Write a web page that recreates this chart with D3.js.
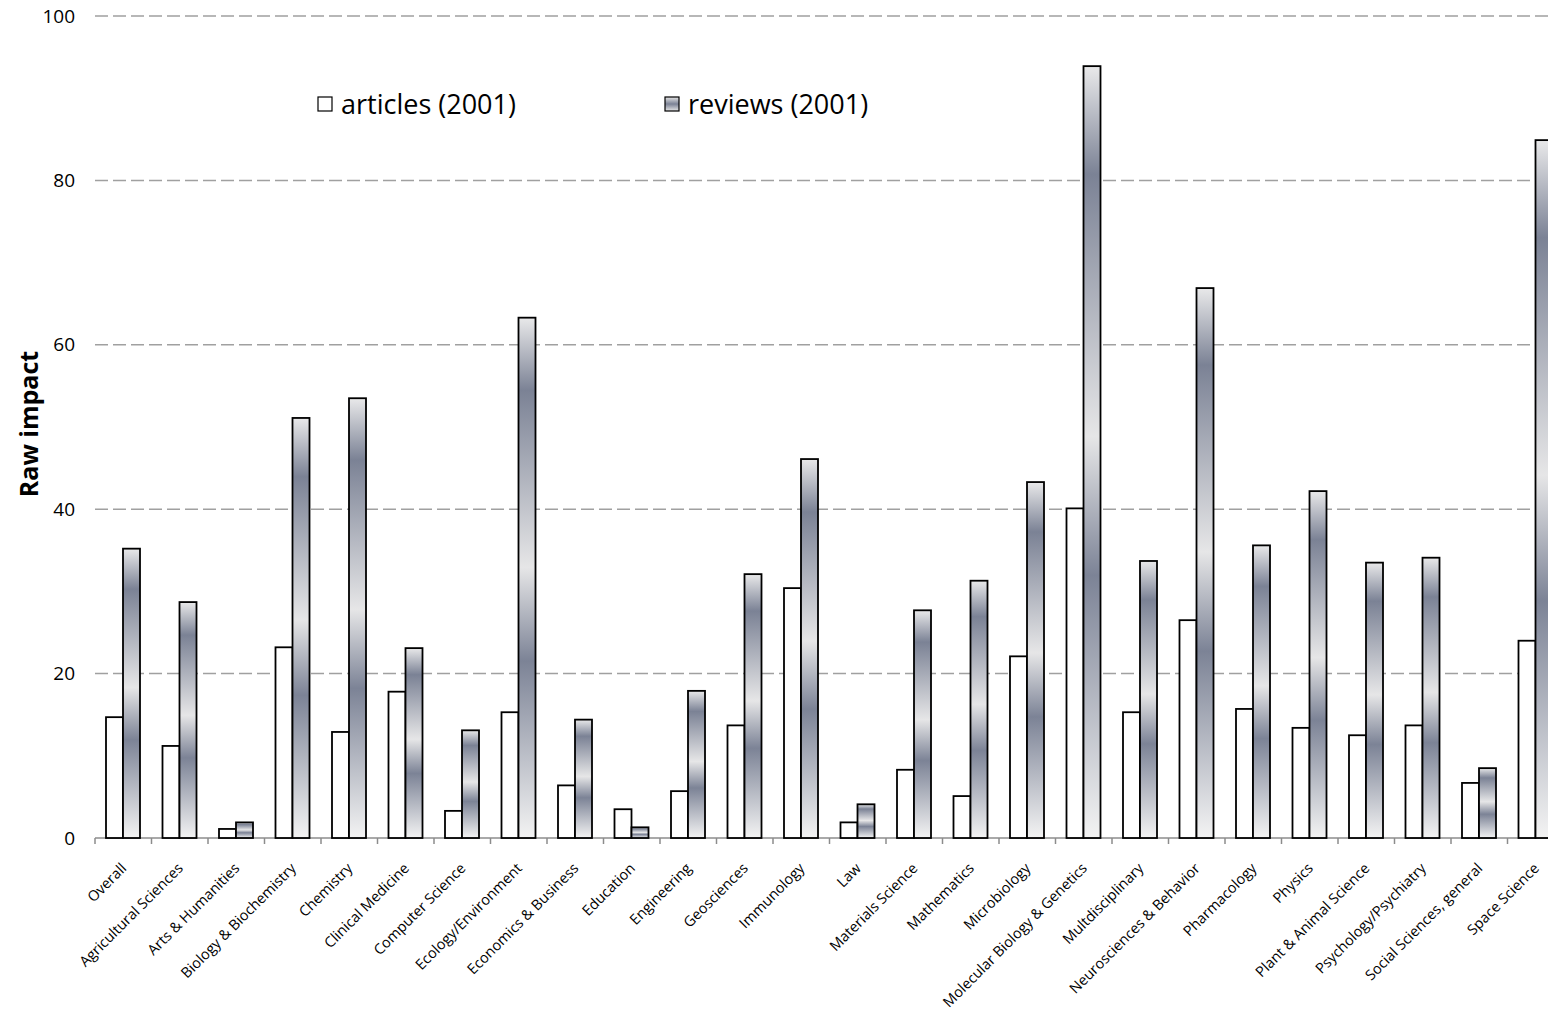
<!DOCTYPE html>
<html>
<head>
<meta charset="utf-8">
<script src="https://cdn.jsdelivr.net/npm/d3@7"></script>
<style>
  body { margin: 0; background: #fff; }
  svg { display: block; font-family: "Open Sans", "DejaVu Sans", sans-serif; }
</style>
</head>
<body>
<svg id="chart" width="1548" height="1020"></svg>
<script>
var categories = ["Overall", "Agricultural Sciences", "Arts & Humanities", "Biology & Biochemistry",
  "Chemistry", "Clinical Medicine", "Computer Science", "Ecology/Environment", "Economics & Business",
  "Education", "Engineering", "Geosciences", "Immunology", "Law", "Materials Science", "Mathematics",
  "Microbiology", "Molecular Biology & Genetics", "Multdisciplinary", "Neurosciences & Behavior",
  "Pharmacology", "Physics", "Plant & Animal Science", "Psychology/Psychiatry",
  "Social Sciences, general", "Space Science"];
var articles = [14.7, 11.2, 1.1, 23.2, 12.9, 17.8, 3.3, 15.3, 6.4, 3.5, 5.7, 13.7, 30.4, 1.9,
  8.3, 5.1, 22.1, 40.1, 15.3, 26.5, 15.7, 13.4, 12.5, 13.7, 6.7, 24.0];
var reviews = [35.2, 28.7, 1.9, 51.1, 53.5, 23.1, 13.1, 63.3, 14.4, 1.3, 17.9, 32.1, 46.1, 4.1,
  27.7, 31.3, 43.3, 93.9, 33.7, 66.9, 35.6, 42.2, 33.5, 34.1, 8.5, 84.9];
var seriesNames = ["articles (2001)", "reviews (2001)"];
var yTicks = [0, 20, 40, 60, 80, 100];

var svg = d3.select("#chart");
var plotLeft = 95, plotTop = 16, plotBottom = 838;
var step = 56.5;

// plot runs a little past the right edge of the picture
var x = d3.scaleBand().domain(d3.range(categories.length))
  .range([plotLeft, plotLeft + categories.length * step]).padding(0);
var x1 = d3.scaleBand().domain([0, 1]).range([11, 45]).padding(0);
var y = d3.scaleLinear().domain([0, 100]).range([plotBottom, plotTop]);

// gradient for the review bars
var defs = svg.append("defs");
var grad = defs.append("linearGradient").attr("id", "revGrad")
  .attr("x1", 0).attr("y1", 0).attr("x2", 0).attr("y2", 1);
var stops = [[0, "#e9e9ea"], [0.14, "#7b8295"], [0.48, "#e6e6e7"], [0.66, "#7c8396"], [1, "#f3f3f3"]];
grad.selectAll("stop").data(stops).enter().append("stop")
  .attr("offset", function(d) { return d[0]; })
  .attr("stop-color", function(d) { return d[1]; });
var lgrad = defs.append("linearGradient").attr("id", "legGrad")
  .attr("x1", 0).attr("y1", 0).attr("x2", 0).attr("y2", 1);
lgrad.selectAll("stop").data([[0, "#e6e6e6"], [0.5, "#7b8295"], [1, "#e6e6e6"]]).enter().append("stop")
  .attr("offset", function(d) { return d[0]; })
  .attr("stop-color", function(d) { return d[1]; });

// grid lines
svg.append("g").selectAll("line").data(yTicks.filter(function(t) { return t > 0; }))
  .enter().append("line")
  .attr("x1", plotLeft).attr("x2", 1548)
  .attr("y1", function(d) { return y(d); }).attr("y2", function(d) { return y(d); })
  .attr("stroke", "#a0a0a0").attr("stroke-width", 1.5).attr("stroke-dasharray", "13,5");

// y tick labels
svg.append("g").selectAll("text").data(yTicks).enter().append("text")
  .attr("x", 75).attr("y", function(d) { return y(d); }).attr("dy", "0.35em")
  .attr("text-anchor", "end").attr("font-size", 19).attr("fill", "#000")
  .text(function(d) { return d; });

svg.append("text")
  .attr("transform", "translate(38,424) rotate(-90)")
  .attr("text-anchor", "middle").attr("font-size", 25).attr("font-weight", "bold")
  .text("Raw impact");

// x axis line and ticks
svg.append("line").attr("x1", plotLeft).attr("x2", 1548).attr("y1", plotBottom).attr("y2", plotBottom)
  .attr("stroke", "#8c8c8c").attr("stroke-width", 1.5);
svg.append("g").selectAll("line").data(d3.range(categories.length + 1)).enter().append("line")
  .attr("x1", function(d) { return plotLeft + d * step; })
  .attr("x2", function(d) { return plotLeft + d * step; })
  .attr("y1", plotBottom).attr("y2", plotBottom + 6)
  .attr("stroke", "#8c8c8c").attr("stroke-width", 1.5);

// bars
var groups = svg.append("g").selectAll("g").data(categories).enter().append("g")
  .attr("transform", function(d, i) { return "translate(" + x(i) + ",0)"; });

groups.append("rect")
  .attr("x", x1(0)).attr("width", x1.bandwidth())
  .attr("y", function(d, i) { return y(articles[i]); })
  .attr("height", function(d, i) { return plotBottom - y(articles[i]); })
  .attr("fill", "#fff").attr("stroke", "#000").attr("stroke-width", 1.8);

groups.append("rect")
  .attr("x", x1(1)).attr("width", x1.bandwidth())
  .attr("y", function(d, i) { return y(reviews[i]); })
  .attr("height", function(d, i) { return plotBottom - y(reviews[i]); })
  .attr("fill", "url(#revGrad)").attr("stroke", "#000").attr("stroke-width", 1.8);

// category labels
groups.append("text")
  .attr("transform", "translate(" + (x.bandwidth() / 2 - 3) + "," + (plotBottom + 24) + ") rotate(-45)")
  .attr("text-anchor", "end").attr("dy", "0.7em")
  .attr("font-size", 14.5).attr("fill", "#000")
  .text(function(d) { return d; });

// legend
var legend = [[318, "#fff"], [665, "url(#legGrad)"]];
var leg = svg.append("g").selectAll("g").data(seriesNames).enter().append("g")
  .attr("transform", function(d, i) { return "translate(" + legend[i][0] + ",97)"; });
leg.append("rect").attr("width", 14).attr("height", 14)
  .attr("fill", function(d, i) { return legend[i][1]; })
  .attr("stroke", "#000").attr("stroke-width", 1.2);
leg.append("text").attr("x", 23).attr("y", 7).attr("dy", "0.36em")
  .attr("font-size", 27).text(function(d) { return d; });
</script>
</body>
</html>
